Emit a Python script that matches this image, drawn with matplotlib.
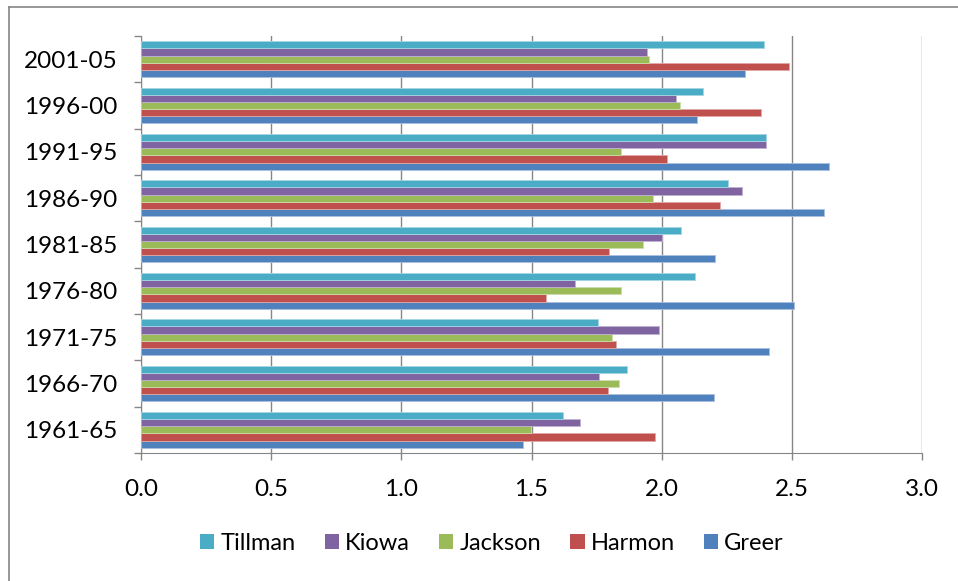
import numpy as np
import matplotlib.pyplot as plt
from matplotlib.lines import Line2D

periods = ['1961-65', '1966-70', '1971-75', '1976-80', '1981-85',
           '1986-90', '1991-95', '1996-00', '2001-05']

# values per county, bottom period first
greer = [1.467, 2.202, 2.413, 2.508, 2.204, 2.622, 2.644, 2.135, 2.321]
harmon = [1.976, 1.792, 1.824, 1.556, 1.796, 2.224, 2.019, 2.382, 2.488]
jackson = [1.498, 1.836, 1.810, 1.845, 1.928, 1.966, 1.845, 2.072, 1.952]
kiowa = [1.688, 1.759, 1.989, 1.666, 2.003, 2.309, 2.401, 2.054, 1.942]
tillman = [1.621, 1.867, 1.757, 2.127, 2.076, 2.256, 2.401, 2.159, 2.392]

series = [('Greer', greer, '#4F81BD', '#a9c0e0'),
          ('Harmon', harmon, '#C0504D', '#e0a8a6'),
          ('Jackson', jackson, '#9BBB59', '#cddcaa'),
          ('Kiowa', kiowa, '#8064A2', '#bfb1d0'),
          ('Tillman', tillman, '#4BACC6', '#a5d5e2')]

plt.rcParams['font.family'] = ['Lato', 'DejaVu Sans']

fig = plt.figure(figsize=(9.58, 5.81), dpi=100)
ax = fig.add_axes([141 / 958, 1 - 453 / 581, 781 / 958, 417 / 581])

y = np.arange(len(periods))
bar_h = 0.155
for i, (name, vals, col, edge) in enumerate(series):
    ax.barh(y + (i - 2) * bar_h, vals, height=bar_h, color=col,
            edgecolor=edge, linewidth=0.6, label=name, zorder=3)

ax.set_xlim(0, 3.0)
ax.set_ylim(-0.5, len(periods) - 0.5)
ax.set_xticks(np.arange(0, 3.01, 0.5))
ax.set_xticklabels([f'{v:.1f}' for v in np.arange(0, 3.01, 0.5)])
ax.xaxis.grid(True, color='#868686', linewidth=1.0, zorder=0)

# category labels centered, ticks on the group boundaries
ax.set_yticks(y)
ax.set_yticklabels(periods)
ax.set_yticks(np.arange(-0.5, len(periods)), minor=True)
ax.tick_params(axis='y', which='major', length=0, pad=17, labelsize=17.5)
ax.tick_params(axis='y', which='minor', length=5, color='#868686', width=1)
ax.tick_params(axis='x', length=5, color='#868686', width=1, pad=14, labelsize=17.5)

for side in ['top', 'right']:
    ax.spines[side].set_visible(False)
for side in ['left', 'bottom']:
    ax.spines[side].set_color('#868686')

handles, labels = ax.get_legend_handles_labels()
leg = fig.legend(handles[::-1], labels[::-1], loc='center',
                 bbox_to_anchor=(492 / 958, 1 - 543 / 581), ncol=5,
                 frameon=False, fontsize=17, handlelength=0.6, handleheight=0.6,
                 handletextpad=0.25, columnspacing=1.25)
for h in leg.legend_handles:
    h.set_edgecolor('none')

# chart frame: only the top and left edges are inside the image
top = 1 - 7 / 581
left = 8.5 / 958
fig.lines.append(Line2D([left, 1], [top, top], transform=fig.transFigure,
                        color='#868686', linewidth=1.2))
fig.lines.append(Line2D([left, left], [0, top], transform=fig.transFigure,
                        color='#868686', linewidth=1.2))

fig.savefig('out.png', dpi=100)
